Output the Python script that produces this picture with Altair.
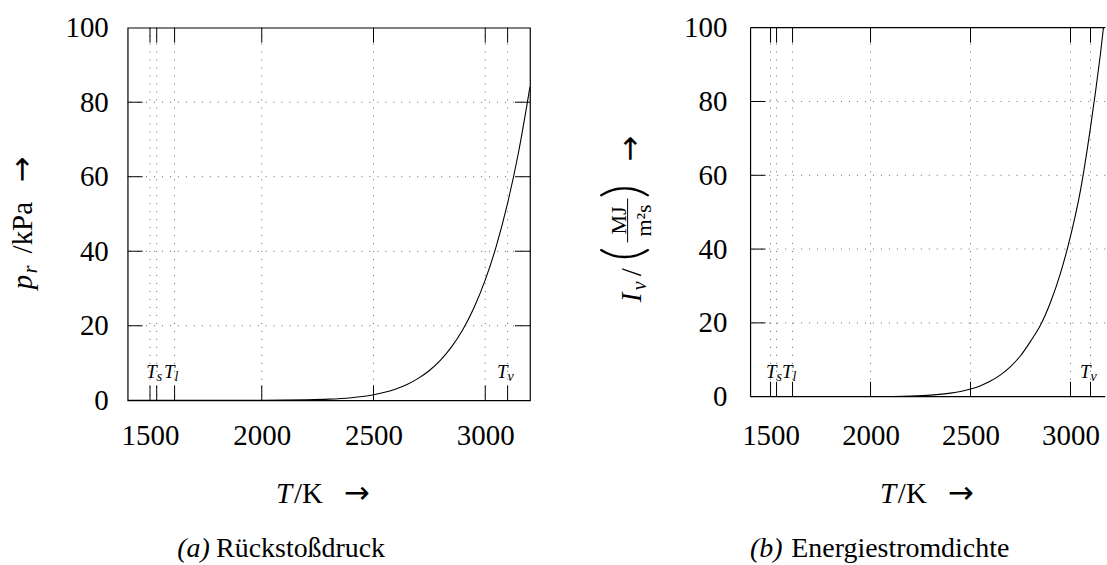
import altair as alt
import pandas as pd

FONT = "Liberation Serif"
ARROW_FONT = "DejaVu Sans"
INK = "black"
GRID = "#666666"

# Temperature samples (K) and the two quantities plotted over them
temperature_K = [1400, 1500, 1600, 1700, 1800, 1900, 2000, 2100, 2200, 2300, 2400, 2450,
                 2500, 2550, 2600, 2650, 2700, 2750, 2800, 2850, 2900, 2950, 3000,
                 3050, 3100, 3150, 3200]
recoil_pressure_kPa = [0.0, 0.0, 0.0, 0.0003, 0.0012, 0.0045, 0.015, 0.045, 0.12, 0.30, 0.70, 1.03,
                       1.50, 2.16, 3.05, 4.26, 5.87, 8.0, 10.8, 14.4, 19.0, 24.9, 32.3,
                       41.5, 52.9, 66.9, 84.1]
energy_flux_MJ_m2s = [0.0, 0.0, 0.0001, 0.0004, 0.0016, 0.0062, 0.021, 0.063, 0.17, 0.42, 0.97, 1.43,
                      2.09, 2.99, 4.23, 5.91, 8.15, 11.1, 15.0, 19.4, 25.6, 33.5, 43.5,
                      56.0, 73.0, 93.0, 116.7]

# Axis ticks and the characteristic temperatures
x_tick_values = [1500, 2000, 2500, 3000]
y_tick_values = [0, 20, 40, 60, 80, 100]
y_grid_values = [20, 40, 60, 80]
marker_temps = [1530, 1610, 3100]
marker_subscripts = ["s", "l", "v"]

curve_df = pd.DataFrame({"T": temperature_K, "p": recoil_pressure_kPa, "I": energy_flux_MJ_m2s})
xtick_df = pd.DataFrame({"T": x_tick_values + marker_temps})
ygrid_df = pd.DataFrame({"v": y_grid_values})
marker_df = pd.DataFrame({"T": marker_temps, "sub": marker_subscripts})
one_row = pd.DataFrame({"k": [0]})

Y_SCALE = alt.Scale(domain=[0, 100], nice=False, zero=False)
TICK = 15


def text_piece(text, x, y, size=29, italic=False, angle=0, align="left", font=FONT, weight="normal"):
    return alt.Chart(one_row).mark_text(
        text=text, font=font, fontSize=size, fontStyle="italic" if italic else "normal",
        fontWeight=weight, angle=angle, align=align, baseline="alphabetic", color=INK,
    ).encode(x=alt.value(x), y=alt.value(y))


def panel_layers(field, W, H, x_max, x_label_pad, y_label_pad, marker_dy, right_ticks):
    xs = alt.Scale(domain=[1400, x_max], nice=False, zero=False)
    x_axis = alt.Axis(values=x_tick_values, ticks=False, domain=False, grid=False,
                      labelFont=FONT, labelFontSize=29, labelColor=INK, labelPadding=x_label_pad,
                      labelFlush=False, labelOverlap=False, labelBaseline="top", format="d", title=None)
    y_axis = alt.Axis(values=y_tick_values, ticks=False, domain=False, grid=False,
                      labelFont=FONT, labelFontSize=29, labelColor=INK, labelPadding=y_label_pad,
                      labelFlush=False, labelOverlap=False, format="d", title=None)
    X = lambda f: alt.X(f, scale=xs, axis=x_axis)
    Y = lambda f: alt.Y(f, scale=Y_SCALE, axis=y_axis)

    vgrid = alt.Chart(xtick_df).mark_rule(color=GRID, strokeWidth=1, strokeDash=[1, 7]).encode(x=X("T:Q"))
    hgrid = alt.Chart(ygrid_df).mark_rule(color=GRID, strokeWidth=1, strokeDash=[1, 7]).encode(y=Y("v:Q"))
    curve = alt.Chart(curve_df).mark_line(color=INK, strokeWidth=1.1, interpolate="monotone", clip=True).encode(
        x=X("T:Q"), y=Y(f"{field}:Q"))
    bottom_ticks = alt.Chart(xtick_df).mark_rule(color=INK, strokeWidth=1).encode(
        x=X("T:Q"), y=alt.value(H), y2=alt.value(H - TICK))
    top_ticks = alt.Chart(xtick_df).mark_rule(color=INK, strokeWidth=1).encode(
        x=X("T:Q"), y=alt.value(0), y2=alt.value(TICK))
    left_ticks = alt.Chart(ygrid_df).mark_rule(color=INK, strokeWidth=1).encode(
        y=Y("v:Q"), x=alt.value(0), x2=alt.value(TICK))
    marker_T = alt.Chart(marker_df).mark_text(
        text="T", font=FONT, fontStyle="italic", fontSize=19, align="right",
        baseline="alphabetic", color=INK).encode(x=X("T:Q"), y=alt.value(H - marker_dy))
    marker_sub = alt.Chart(marker_df).mark_text(
        font=FONT, fontStyle="italic", fontSize=14, align="left",
        baseline="alphabetic", dy=3, color=INK).encode(
        x=X("T:Q"), y=alt.value(H - marker_dy), text="sub:N")
    layers = [vgrid, hgrid, curve, bottom_ticks, top_ticks, left_ticks, marker_T, marker_sub]
    if right_ticks:
        layers.append(alt.Chart(ygrid_df).mark_rule(color=INK, strokeWidth=1).encode(
            y=Y("v:Q"), x=alt.value(W - TICK), x2=alt.value(W)))
    return layers


# ---- (a) recoil pressure ----
WL, HL = 403.4, 373.6
left_layers = panel_layers("p", WL, HL, 3200, 21, 19.4, 22.6, True)
left_layers += [
    # keeps the panel's outer margin fixed
    alt.Chart(one_row).mark_rule(color="transparent", strokeWidth=0).encode(
        x=alt.value(-127.3), x2=alt.value(-127.3), y=alt.value(-25.7), y2=alt.value(-25.7)),
    # y title: p_r / kPa ->
    text_piece("p", -96.3, 262.3, italic=True, angle=270),
    text_piece("r", -91.3, 246.3, size=20, italic=True, angle=270),
    text_piece("/kPa", -96.3, 226.3, angle=270),
    text_piece("\u2192", -96.3, 155.3, size=31, angle=270, font=ARROW_FONT),
    # x title: T / K ->
    text_piece("T", 148.7, HL + 102.7, italic=True),
    text_piece("/K", 166.7, HL + 102.7),
    text_piece("\u2192", 216.7, HL + 102.7, size=31, font=ARROW_FONT),
    # caption
    text_piece("(a)", 49.7, 530.3, size=28, italic=True),
    text_piece("Rückstoßdruck", 88.7, 530.3, size=28),
]
left = alt.layer(*left_layers).properties(
    width=WL, height=HL, view=alt.ViewBackground(stroke=INK, strokeWidth=1.2))

# ---- (b) energy flux density ----
WR, HR = 355.7, 370
right_layers = panel_layers("I", WR, HR, 3174, 25, 23.8, 19, False)
frame = dict(color=INK, strokeWidth=1.2)
right_layers += [
    alt.Chart(one_row).mark_rule(**frame).encode(x=alt.value(0), y=alt.value(0), y2=alt.value(HR)),
    alt.Chart(one_row).mark_rule(**frame).encode(y=alt.value(0), x=alt.value(0), x2=alt.value(WR)),
    alt.Chart(one_row).mark_rule(**frame).encode(y=alt.value(HR), x=alt.value(0), x2=alt.value(WR)),
    # y title: I_v / (MJ / m^2 s) ->
    text_piece("I", -110.3, 275.3, italic=True, angle=270),
    text_piece("v", -105.3, 263.3, size=20, italic=True, angle=270),
    text_piece("/", -110.3, 249.3, angle=270),
    text_piece("(", -109.3, 234.3, size=56, angle=270, font="Lato", weight=300),
    text_piece("MJ", -125.3, 193.3, size=22, angle=270, align="center"),
    alt.Chart(one_row).mark_rule(color=INK, strokeWidth=1).encode(
        x=alt.value(-123.3), y=alt.value(215.3), y2=alt.value(171.3)),
    text_piece("m\u00b2s", -100.3, 193.3, size=22, angle=270, align="center"),
    text_piece(")", -109.3, 171.3, size=56, angle=270, font="Lato", weight=300),
    text_piece("\u2192", -111.3, 134.3, size=31, angle=270, font=ARROW_FONT),
    # x title
    text_piece("T", 129.7, HR + 106.3, italic=True),
    text_piece("/K", 147.7, HR + 106.3),
    text_piece("\u2192", 197.7, HR + 106.3, size=31, font=ARROW_FONT),
    # caption
    text_piece("(b)", -0.6, 530.3, size=28, italic=True),
    text_piece("Energiestromdichte", 40.8, 530.3, size=28),
]
right = alt.layer(*right_layers).properties(
    width=WR, height=HR, view=alt.ViewBackground(stroke="transparent"))

chart = alt.hconcat(left, right, spacing=220.6, bounds="flush").properties(
    padding={"left": 0, "top": 0, "right": 0, "bottom": 0}, background="white")

chart.save("out.html", embed_options={"renderer": "svg", "actions": False})
